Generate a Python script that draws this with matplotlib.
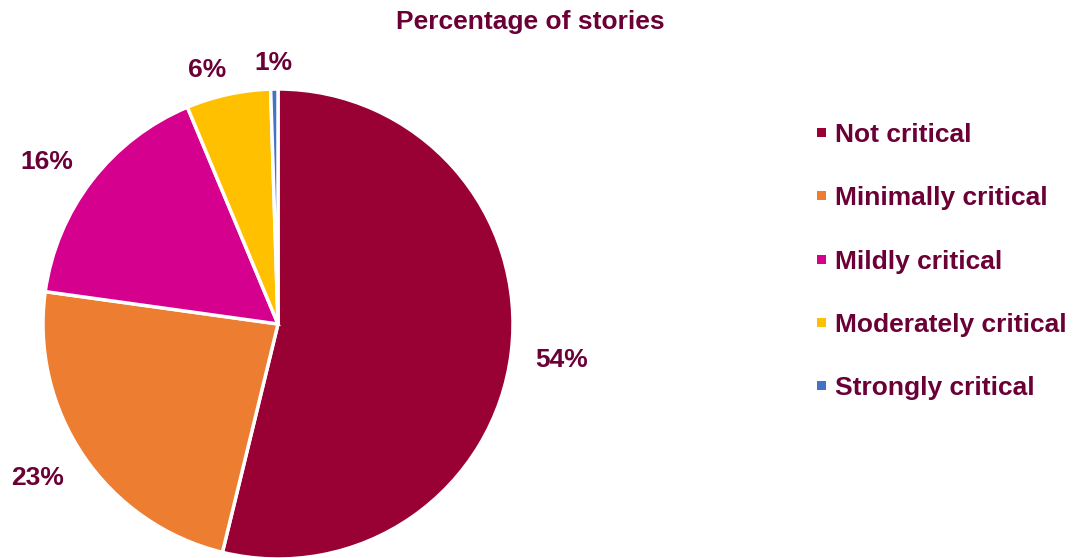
import matplotlib
matplotlib.use("Agg")
import matplotlib.pyplot as plt
import numpy as np

categories = ["Not critical", "Minimally critical", "Mildly critical",
              "Moderately critical", "Strongly critical"]
values = [53.8, 23.4, 16.5, 5.8, 0.5]
pct_labels = ["54%", "23%", "16%", "6%", "1%"]
colors = ["#990033", "#ED7D31", "#D6008F", "#FFC000", "#4472C4"]
text_color = "#6B0036"
plt.rcParams['font.family'] = ['Liberation Sans', 'DejaVu Sans']
FS = 19

# label placement (radius fraction, angle nudge in degrees)
label_dist = [1.218, 1.217, 1.2, 1.12, 1.11]
label_nudge = [-0.4, -1.6, 2.6, 3.3, 0.2]

W, H = 1075, 558
fig = plt.figure(figsize=(W / 100, H / 100), dpi=100)
cx, cy, R = 278, 324, 235
ax = fig.add_axes([(cx - R) / W, (H - cy - R) / H, 2 * R / W, 2 * R / H])
wedges, texts = ax.pie(values, colors=colors, startangle=90, counterclock=False,
                       labels=pct_labels, labeldistance=1.21,
                       wedgeprops=dict(edgecolor="white", linewidth=2.5),
                       textprops=dict(color=text_color, fontsize=FS, fontweight="bold"))
for w, t, d, n in zip(wedges, texts, label_dist, label_nudge):
    ang = np.deg2rad((w.theta1 + w.theta2) / 2 + n)
    t.set_position((d * np.cos(ang), d * np.sin(ang)))
    t.set_ha("center")
    t.set_va("center")
ax.set_xlim(-1, 1)
ax.set_ylim(-1, 1)
ax.set_aspect("equal")

fig.text(530 / W, 1 - 22 / H, "Percentage of stories", ha="center", va="center",
         color=text_color, fontsize=FS, fontweight="bold")

leg = fig.legend(wedges, categories, loc="upper left",
                 bbox_to_anchor=(817 / W, 1 - 123 / H), frameon=False,
                 borderpad=0, borderaxespad=0,
                 handlelength=0.34, handleheight=0.15, handletextpad=0.34,
                 labelspacing=1.49,
                 prop=dict(weight="bold", size=FS))
for t in leg.get_texts():
    t.set_color(text_color)
for h in leg.legend_handles:
    h.set_edgecolor("none")

fig.savefig("out.png", dpi=100)
